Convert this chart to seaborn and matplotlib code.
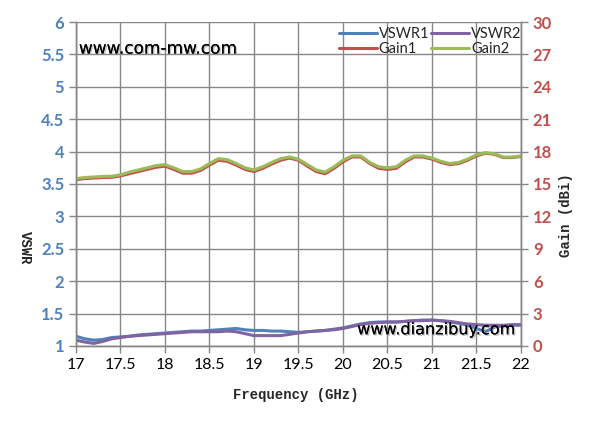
import numpy as np
import pandas as pd
import matplotlib
matplotlib.use("Agg")
import matplotlib.pyplot as plt
import matplotlib.patheffects as pe
import seaborn as sns

# frequency points (GHz)
freq = [17.0, 17.1, 17.2, 17.3, 17.4, 17.5, 17.6, 17.7, 17.8, 17.9,
        18.0, 18.1, 18.2, 18.3, 18.4, 18.5, 18.6, 18.7, 18.8, 18.9,
        19.0, 19.1, 19.2, 19.3, 19.4, 19.5, 19.6, 19.7, 19.8, 19.9,
        20.0, 20.1, 20.2, 20.3, 20.4, 20.5, 20.6, 20.7, 20.8, 20.9,
        21.0, 21.1, 21.2, 21.3, 21.4, 21.5, 21.6, 21.7, 21.8, 21.9, 22.0]

vswr1 = [1.15, 1.11, 1.09, 1.10, 1.13, 1.14, 1.15, 1.17, 1.18, 1.19,
         1.20, 1.21, 1.22, 1.23, 1.23, 1.24, 1.25, 1.26, 1.27, 1.25,
         1.24, 1.24, 1.23, 1.23, 1.22, 1.21, 1.22, 1.23, 1.24, 1.26,
         1.28, 1.31, 1.34, 1.36, 1.37, 1.37, 1.37, 1.38, 1.39, 1.40,
         1.40, 1.39, 1.37, 1.35, 1.32, 1.27, 1.22, 1.29, 1.31, 1.32, 1.32]

vswr2 = [1.09, 1.06, 1.04, 1.07, 1.11, 1.13, 1.15, 1.16, 1.17, 1.18,
         1.19, 1.20, 1.21, 1.22, 1.22, 1.22, 1.22, 1.23, 1.22, 1.19,
         1.16, 1.16, 1.16, 1.16, 1.18, 1.20, 1.22, 1.23, 1.24, 1.25,
         1.27, 1.30, 1.33, 1.35, 1.36, 1.37, 1.37, 1.38, 1.39, 1.39,
         1.40, 1.39, 1.38, 1.36, 1.34, 1.33, 1.32, 1.32, 1.32, 1.33, 1.33]

gain1 = [15.4, 15.5, 15.55, 15.6, 15.62, 15.75, 15.95, 16.15, 16.35, 16.55,
         16.65, 16.35, 16.0, 16.0, 16.25, 16.75, 17.2, 17.1, 16.75, 16.35,
         16.15, 16.45, 16.85, 17.2, 17.4, 17.2, 16.65, 16.15, 15.95, 16.45,
         17.05, 17.5, 17.5, 16.9, 16.45, 16.35, 16.45, 17.05, 17.5, 17.5,
         17.3, 17.0, 16.8, 16.9, 17.2, 17.6, 17.85, 17.75, 17.45, 17.45, 17.55]

gain2 = [15.5, 15.6, 15.65, 15.7, 15.72, 15.85, 16.1, 16.3, 16.5, 16.7,
         16.8, 16.5, 16.15, 16.15, 16.4, 16.9, 17.35, 17.25, 16.9, 16.5,
         16.3, 16.6, 17.0, 17.35, 17.5, 17.3, 16.8, 16.3, 16.1, 16.6,
         17.2, 17.6, 17.6, 17.0, 16.6, 16.5, 16.6, 17.2, 17.6, 17.6,
         17.4, 17.1, 16.9, 17.0, 17.3, 17.7, 17.9, 17.8, 17.5, 17.5, 17.6]

x_ticks = [17, 17.5, 18, 18.5, 19, 19.5, 20, 20.5, 21, 21.5, 22]
vswr_ticks = [1, 1.5, 2, 2.5, 3, 3.5, 4, 4.5, 5, 5.5, 6]
gain_ticks = [0, 3, 6, 9, 12, 15, 18, 21, 24, 27, 30]

blue = "#4F81BD"
purple = "#8064A2"
red = "#C0504D"
green = "#9BBB59"
grid_c = "#878787"

vswr_df = pd.DataFrame({"freq": freq * 2, "val": vswr1 + vswr2,
                        "name": ["VSWR1"] * len(freq) + ["VSWR2"] * len(freq)})
gain_df = pd.DataFrame({"freq": freq * 2, "val": gain1 + gain2,
                        "name": ["Gain1"] * len(freq) + ["Gain2"] * len(freq)})

sns.set_style("white")
plt.rcParams["font.family"] = ["Lato", "DejaVu Sans"]

fig = plt.figure(figsize=(5.95, 4.34), dpi=100)
ax = fig.add_axes([0.1277, 0.2028, 0.7479, 0.7465])
ax2 = ax.twinx()

sns.lineplot(data=vswr_df, x="freq", y="val", hue="name", palette=[blue, purple],
             lw=2.2, ax=ax, legend=False)
sns.lineplot(data=gain_df, x="freq", y="val", hue="name", palette=[red, green],
             lw=2.2, ax=ax2, legend=False)

ax.set_xlim(17, 22)
ax.set_ylim(1, 6)
ax2.set_ylim(0, 30)
ax.set_xticks(x_ticks)
ax.set_xticklabels([f"{t:g}" for t in x_ticks])
ax.set_yticks(vswr_ticks)
ax.set_yticklabels([f"{t:g}" for t in vswr_ticks])
ax2.set_yticks(gain_ticks)
ax2.set_yticklabels([str(t) for t in gain_ticks])

ax.grid(True, color=grid_c, lw=1)
ax2.grid(False)
for a in (ax, ax2):
    for s in a.spines.values():
        s.set_color(grid_c)
        s.set_linewidth(1)
    a.spines["top"].set_visible(False)

ax.tick_params(axis="x", colors=grid_c, labelcolor="black", length=5, width=1,
               labelsize=11.5, direction="out", bottom=True)
ax.tick_params(axis="y", colors=grid_c, labelcolor=blue, length=5, width=1,
               labelsize=12, direction="out", left=True)
ax2.tick_params(axis="y", colors=grid_c, labelcolor=red, length=5, width=1,
                labelsize=12, direction="out", right=True)
for lab in ax.get_yticklabels() + ax2.get_yticklabels():
    lab.set_fontweight("bold")

ax.set_xlabel("")
ax.set_ylabel("")
ax2.set_ylabel("")
mono = ["Liberation Mono", "DejaVu Sans Mono"]
fig.text(0.497, 0.09, "Frequency (GHz)", ha="center", va="center",
         family=mono, fontsize=10, fontweight="bold")
fig.text(0.042, 0.43, "VSWR", ha="center", va="center", rotation=270,
         family=mono, fontsize=10, fontweight="bold")
fig.text(0.952, 0.505, "Gain (dBi)", ha="center", va="center", rotation=90,
         family=mono, fontsize=10, fontweight="bold")

shadow = [pe.withSimplePatchShadow(offset=(1, -1), shadow_rgbFace="#999999", alpha=0.6),
          pe.Normal()]
ax.text(0.0065, 0.918, "www.com-mw.com", transform=ax.transAxes, family="DejaVu Sans",
        fontsize=12.2, color="black", va="center", ha="left", path_effects=shadow)
ax.text(0.632, 0.05, "www.dianzibuy.com", transform=ax.transAxes, family="DejaVu Sans",
        fontsize=11.6, color="black", va="center", ha="left", path_effects=shadow)

lines = ax.get_lines()[:2] + ax2.get_lines()[:2]
handles = [lines[0], lines[2], lines[1], lines[3]]
labels = ["VSWR1", "Gain1", "VSWR2", "Gain2"]
leg = ax2.legend(handles, labels, ncol=2, frameon=False, fontsize=10.5,
                 loc="upper right", bbox_to_anchor=(0.891, 0.958),
                 bbox_transform=fig.transFigure, handlelength=2.6,
                 handletextpad=0.15, columnspacing=0.1, labelspacing=0.1,
                 borderpad=0.1)

fig.savefig("out.png", dpi=100)
